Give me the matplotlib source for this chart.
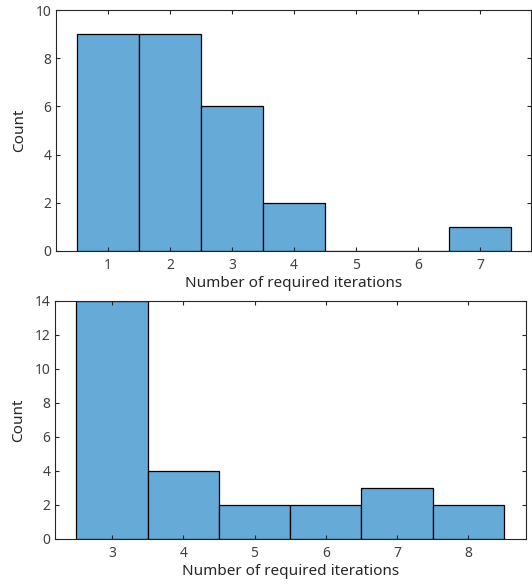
import matplotlib
matplotlib.use('Agg')
import matplotlib.pyplot as plt

plt.rcParams['font.family'] = ['Noto Sans', 'DejaVu Sans']

# top histogram: iterations 1..7
top_bins = [1, 2, 3, 4, 5, 6, 7]
top_counts = [9, 9, 6, 2, 0, 0, 1]

# bottom histogram: iterations 3..8
bottom_bins = [3, 4, 5, 6, 7, 8]
bottom_counts = [14, 4, 2, 2, 3, 2]

bar_color = (0.4, 0.668, 0.845)
axis_gray = '#262626'
xlabel = 'Number of required iterations'

fig = plt.figure(figsize=(5.32, 5.85), dpi=100)
ax1 = fig.add_axes([56 / 532, 1 - 251 / 585, 475 / 532, 241 / 585])
ax2 = fig.add_axes([55 / 532, 1 - 539 / 585, 471 / 532, 238 / 585])


def style(ax):
    for s in ax.spines.values():
        s.set_color(axis_gray)
        s.set_linewidth(0.8)
    ax.tick_params(direction='in', length=3, width=0.8, top=True, right=True,
                   colors=axis_gray, labelsize=10, labelcolor='#404040')
    ax.tick_params(axis='x', pad=5)
    ax.set_xlabel(xlabel, fontsize=11, color='#262626', labelpad=2)
    ax.set_ylabel('Count', fontsize=11, color='#262626', labelpad=6)


ax1.bar(top_bins, top_counts, width=1.0, color=bar_color, edgecolor='black', linewidth=0.9)
ax1.set_xlim(0.16, 7.82)
ax1.set_ylim(0, 10)
ax1.set_xticks(top_bins)
ax1.set_yticks(range(0, 11, 2))
style(ax1)

ax2.bar(bottom_bins, bottom_counts, width=1.0, color=bar_color, edgecolor='black', linewidth=0.9)
ax2.set_xlim(2.2, 8.81)
ax2.set_ylim(0, 14)
ax2.set_xticks(bottom_bins)
ax2.set_yticks(range(0, 15, 2))
style(ax2)

fig.savefig('out.png', dpi=100)
